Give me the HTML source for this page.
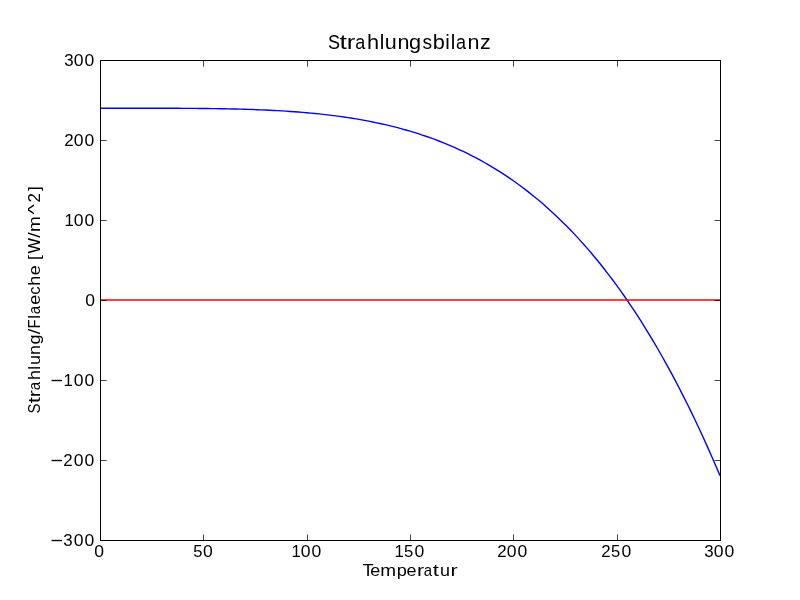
<!DOCTYPE html>
<html><head><meta charset="utf-8"><title>Strahlungsbilanz</title>
<style>
html,body{margin:0;padding:0;background:#fff;}
body{width:800px;height:600px;overflow:hidden;}
svg{display:block;will-change:transform;}
text{font-family:"Liberation Sans",sans-serif;fill:#000;}
.ticks line{stroke:#000;stroke-opacity:0.72;stroke-width:1;}
</style></head>
<body>
<svg width="800" height="600" viewBox="0 0 800 600">
<rect x="0" y="0" width="800" height="600" fill="#fff"/>
<polyline fill="none" stroke="#0000ff" stroke-width="1.39" stroke-linejoin="round" points="100.00,108.20 104.13,108.20 108.27,108.20 112.40,108.20 116.53,108.20 120.67,108.20 124.80,108.20 128.93,108.20 133.07,108.20 137.20,108.20 141.33,108.21 145.47,108.21 149.60,108.22 153.73,108.22 157.87,108.23 162.00,108.24 166.13,108.25 170.27,108.26 174.40,108.28 178.53,108.29 182.67,108.32 186.80,108.34 190.93,108.37 195.07,108.40 199.20,108.44 203.33,108.48 207.47,108.53 211.60,108.59 215.73,108.65 219.87,108.71 224.00,108.79 228.13,108.87 232.27,108.96 236.40,109.06 240.53,109.17 244.67,109.29 248.80,109.42 252.93,109.56 257.07,109.71 261.20,109.88 265.33,110.06 269.47,110.25 273.60,110.46 277.73,110.68 281.87,110.92 286.00,111.18 290.13,111.45 294.27,111.74 298.40,112.05 302.53,112.38 306.67,112.74 310.80,113.11 314.93,113.51 319.07,113.93 323.20,114.37 327.33,114.84 331.47,115.34 335.60,115.86 339.73,116.41 343.87,116.99 348.00,117.61 352.13,118.25 356.27,118.92 360.40,119.63 364.53,120.38 368.67,121.16 372.80,121.97 376.93,122.82 381.07,123.72 385.20,124.65 389.33,125.63 393.47,126.64 397.60,127.70 401.73,128.81 405.87,129.96 410.00,131.16 414.13,132.41 418.27,133.71 422.40,135.06 426.53,136.47 430.67,137.93 434.80,139.44 438.93,141.01 443.07,142.64 447.20,144.33 451.33,146.09 455.47,147.90 459.60,149.78 463.73,151.72 467.87,153.74 472.00,155.82 476.13,157.97 480.27,160.19 484.40,162.49 488.53,164.86 492.67,167.31 496.80,169.84 500.93,172.45 505.07,175.14 509.20,177.92 513.33,180.78 517.47,183.72 521.60,186.76 525.73,189.88 529.87,193.10 534.00,196.42 538.13,199.83 542.27,203.33 546.40,206.94 550.53,210.65 554.67,214.46 558.80,218.38 562.93,222.40 567.07,226.53 571.20,230.78 575.33,235.14 579.47,239.61 583.60,244.20 587.73,248.91 591.87,253.74 596.00,258.69 600.13,263.77 604.27,268.98 608.40,274.32 612.53,279.79 616.67,285.39 620.80,291.13 624.93,297.00 629.07,303.02 633.20,309.18 637.33,315.48 641.47,321.94 645.60,328.54 649.73,335.29 653.87,342.20 658.00,349.26 662.13,356.48 666.27,363.87 670.40,371.41 674.53,379.13 678.67,387.01 682.80,395.06 686.93,403.28 691.07,411.68 695.20,420.26 699.33,429.02 703.47,437.96 707.60,447.09 711.73,456.41 715.87,465.92 720.00,475.62"/>
<line x1="100" y1="300" x2="720" y2="300" stroke="#ff0000" stroke-width="1.39"/>
<g class="ticks">
<line x1="203.5" y1="534.44" x2="203.5" y2="540"/>
<line x1="203.5" y1="61" x2="203.5" y2="66.56"/>
<line x1="307.5" y1="534.44" x2="307.5" y2="540"/>
<line x1="307.5" y1="61" x2="307.5" y2="66.56"/>
<line x1="410.5" y1="534.44" x2="410.5" y2="540"/>
<line x1="410.5" y1="61" x2="410.5" y2="66.56"/>
<line x1="513.5" y1="534.44" x2="513.5" y2="540"/>
<line x1="513.5" y1="61" x2="513.5" y2="66.56"/>
<line x1="617.5" y1="534.44" x2="617.5" y2="540"/>
<line x1="617.5" y1="61" x2="617.5" y2="66.56"/>
<line x1="101" y1="140.5" x2="106.56" y2="140.5"/>
<line x1="714.44" y1="140.5" x2="720" y2="140.5"/>
<line x1="101" y1="220.5" x2="106.56" y2="220.5"/>
<line x1="714.44" y1="220.5" x2="720" y2="220.5"/>
<line x1="101" y1="300.5" x2="106.56" y2="300.5"/>
<line x1="714.44" y1="300.5" x2="720" y2="300.5"/>
<line x1="101" y1="380.5" x2="106.56" y2="380.5"/>
<line x1="714.44" y1="380.5" x2="720" y2="380.5"/>
<line x1="101" y1="460.5" x2="106.56" y2="460.5"/>
<line x1="714.44" y1="460.5" x2="720" y2="460.5"/>
</g>
<rect x="100.5" y="60.5" width="620" height="480" fill="none" stroke="#000" stroke-width="1" shape-rendering="crispEdges"/>
<g class="labels">
<text y="66.00" style="font-size:17px"><tspan x="64.36" textLength="9.39" lengthAdjust="spacingAndGlyphs">3</tspan><tspan x="73.81" textLength="9.77" lengthAdjust="spacingAndGlyphs">0</tspan><tspan x="84.41" textLength="9.77" lengthAdjust="spacingAndGlyphs">0</tspan></text>
<text y="146.00" style="font-size:17px"><tspan x="64.19" textLength="9.42" lengthAdjust="spacingAndGlyphs">2</tspan><tspan x="73.81" textLength="9.77" lengthAdjust="spacingAndGlyphs">0</tspan><tspan x="84.41" textLength="9.77" lengthAdjust="spacingAndGlyphs">0</tspan></text>
<text y="226.00" style="font-size:17px"><tspan x="64.40" textLength="9.33" lengthAdjust="spacingAndGlyphs">1</tspan><tspan x="73.81" textLength="9.77" lengthAdjust="spacingAndGlyphs">0</tspan><tspan x="84.41" textLength="9.77" lengthAdjust="spacingAndGlyphs">0</tspan></text>
<text y="306.00" style="font-size:17px"><tspan x="85.31" textLength="9.77" lengthAdjust="spacingAndGlyphs">0</tspan></text>
<text y="386.00" style="font-size:17px"><tspan x="50.62" y="387.30" style="font-size:19.5px" textLength="12.54" lengthAdjust="spacingAndGlyphs">−</tspan><tspan x="63.50" y="386.00" textLength="9.33" lengthAdjust="spacingAndGlyphs">1</tspan><tspan x="73.81" y="386.00" textLength="9.77" lengthAdjust="spacingAndGlyphs">0</tspan><tspan x="84.41" y="386.00" textLength="9.77" lengthAdjust="spacingAndGlyphs">0</tspan></text>
<text y="466.00" style="font-size:17px"><tspan x="50.62" y="467.30" style="font-size:19.5px" textLength="12.54" lengthAdjust="spacingAndGlyphs">−</tspan><tspan x="63.19" y="466.00" textLength="9.42" lengthAdjust="spacingAndGlyphs">2</tspan><tspan x="73.81" y="466.00" textLength="9.77" lengthAdjust="spacingAndGlyphs">0</tspan><tspan x="84.41" y="466.00" textLength="9.77" lengthAdjust="spacingAndGlyphs">0</tspan></text>
<text y="546.00" style="font-size:17px"><tspan x="50.62" y="547.30" style="font-size:19.5px" textLength="12.54" lengthAdjust="spacingAndGlyphs">−</tspan><tspan x="63.36" y="546.00" textLength="9.39" lengthAdjust="spacingAndGlyphs">3</tspan><tspan x="73.81" y="546.00" textLength="9.77" lengthAdjust="spacingAndGlyphs">0</tspan><tspan x="84.41" y="546.00" textLength="9.77" lengthAdjust="spacingAndGlyphs">0</tspan></text>
<text y="557.00" style="font-size:17px"><tspan x="94.31" textLength="9.77" lengthAdjust="spacingAndGlyphs">0</tspan></text>
<text y="557.00" style="font-size:17px"><tspan x="193.25" textLength="9.22" lengthAdjust="spacingAndGlyphs">5</tspan><tspan x="203.01" textLength="9.77" lengthAdjust="spacingAndGlyphs">0</tspan></text>
<text y="557.00" style="font-size:17px"><tspan x="291.40" textLength="9.33" lengthAdjust="spacingAndGlyphs">1</tspan><tspan x="300.81" textLength="9.77" lengthAdjust="spacingAndGlyphs">0</tspan><tspan x="311.41" textLength="9.77" lengthAdjust="spacingAndGlyphs">0</tspan></text>
<text y="557.00" style="font-size:17px"><tspan x="394.40" textLength="9.33" lengthAdjust="spacingAndGlyphs">1</tspan><tspan x="404.00" textLength="9.22" lengthAdjust="spacingAndGlyphs">5</tspan><tspan x="414.41" textLength="9.77" lengthAdjust="spacingAndGlyphs">0</tspan></text>
<text y="557.00" style="font-size:17px"><tspan x="497.19" textLength="9.42" lengthAdjust="spacingAndGlyphs">2</tspan><tspan x="506.81" textLength="9.77" lengthAdjust="spacingAndGlyphs">0</tspan><tspan x="517.41" textLength="9.77" lengthAdjust="spacingAndGlyphs">0</tspan></text>
<text y="557.00" style="font-size:17px"><tspan x="601.19" textLength="9.42" lengthAdjust="spacingAndGlyphs">2</tspan><tspan x="611.00" textLength="9.22" lengthAdjust="spacingAndGlyphs">5</tspan><tspan x="621.41" textLength="9.77" lengthAdjust="spacingAndGlyphs">0</tspan></text>
<text y="557.00" style="font-size:17px"><tspan x="704.36" textLength="9.39" lengthAdjust="spacingAndGlyphs">3</tspan><tspan x="713.81" textLength="9.77" lengthAdjust="spacingAndGlyphs">0</tspan><tspan x="724.41" textLength="9.77" lengthAdjust="spacingAndGlyphs">0</tspan></text>
<text y="48.90" style="font-size:20.5px"><tspan x="327.94" textLength="12.03" lengthAdjust="spacingAndGlyphs">S</tspan><tspan x="339.54" textLength="7.40" lengthAdjust="spacingAndGlyphs">t</tspan><tspan x="346.85" textLength="8.53" lengthAdjust="spacingAndGlyphs">r</tspan><tspan x="355.23" textLength="10.03" lengthAdjust="spacingAndGlyphs">a</tspan><tspan x="366.96" textLength="12.08" lengthAdjust="spacingAndGlyphs">h</tspan><tspan x="379.67" textLength="4.54" lengthAdjust="spacingAndGlyphs">l</tspan><tspan x="384.84" textLength="11.99" lengthAdjust="spacingAndGlyphs">u</tspan><tspan x="397.49" textLength="11.99" lengthAdjust="spacingAndGlyphs">n</tspan><tspan x="409.12" textLength="12.09" lengthAdjust="spacingAndGlyphs">g</tspan><tspan x="422.39" textLength="9.59" lengthAdjust="spacingAndGlyphs">s</tspan><tspan x="432.85" textLength="12.10" lengthAdjust="spacingAndGlyphs">b</tspan><tspan x="445.23" textLength="4.54" lengthAdjust="spacingAndGlyphs">i</tspan><tspan x="450.72" textLength="4.54" lengthAdjust="spacingAndGlyphs">l</tspan><tspan x="456.10" textLength="10.03" lengthAdjust="spacingAndGlyphs">a</tspan><tspan x="467.61" textLength="11.99" lengthAdjust="spacingAndGlyphs">n</tspan><tspan x="480.07" textLength="10.72" lengthAdjust="spacingAndGlyphs">z</tspan></text>
<text y="575.90" style="font-size:17px"><tspan x="362.50" textLength="11.11" lengthAdjust="spacingAndGlyphs">T</tspan><tspan x="370.31" textLength="10.01" lengthAdjust="spacingAndGlyphs">e</tspan><tspan x="380.38" textLength="15.82" lengthAdjust="spacingAndGlyphs">m</tspan><tspan x="396.70" textLength="10.09" lengthAdjust="spacingAndGlyphs">p</tspan><tspan x="406.56" textLength="10.01" lengthAdjust="spacingAndGlyphs">e</tspan><tspan x="417.09" textLength="7.11" lengthAdjust="spacingAndGlyphs">r</tspan><tspan x="423.66" textLength="8.34" lengthAdjust="spacingAndGlyphs">a</tspan><tspan x="432.84" textLength="6.14" lengthAdjust="spacingAndGlyphs">t</tspan><tspan x="439.94" textLength="10.00" lengthAdjust="spacingAndGlyphs">u</tspan><tspan x="450.41" textLength="7.11" lengthAdjust="spacingAndGlyphs">r</tspan></text>
<text transform="rotate(-90)" y="40.20" style="font-size:17px"><tspan x="-413.49" textLength="9.98" lengthAdjust="spacingAndGlyphs">S</tspan><tspan x="-403.26" textLength="6.14" lengthAdjust="spacingAndGlyphs">t</tspan><tspan x="-397.29" textLength="7.11" lengthAdjust="spacingAndGlyphs">r</tspan><tspan x="-390.19" textLength="8.34" lengthAdjust="spacingAndGlyphs">a</tspan><tspan x="-380.12" textLength="10.07" lengthAdjust="spacingAndGlyphs">h</tspan><tspan x="-369.70" textLength="3.79" lengthAdjust="spacingAndGlyphs">l</tspan><tspan x="-365.13" textLength="10.00" lengthAdjust="spacingAndGlyphs">u</tspan><tspan x="-354.91" textLength="10.00" lengthAdjust="spacingAndGlyphs">n</tspan><tspan x="-344.53" textLength="10.08" lengthAdjust="spacingAndGlyphs">g</tspan><tspan x="-334.21" textLength="5.62" lengthAdjust="spacingAndGlyphs">/</tspan><tspan x="-328.48" textLength="9.14" lengthAdjust="spacingAndGlyphs">F</tspan><tspan x="-318.85" textLength="3.79" lengthAdjust="spacingAndGlyphs">l</tspan><tspan x="-314.19" textLength="8.34" lengthAdjust="spacingAndGlyphs">a</tspan><tspan x="-304.89" textLength="10.01" lengthAdjust="spacingAndGlyphs">e</tspan><tspan x="-294.87" textLength="8.36" lengthAdjust="spacingAndGlyphs">c</tspan><tspan x="-285.77" textLength="10.07" lengthAdjust="spacingAndGlyphs">h</tspan><tspan x="-275.19" textLength="10.01" lengthAdjust="spacingAndGlyphs">e</tspan><tspan> </tspan><tspan x="-260.06" textLength="4.82" lengthAdjust="spacingAndGlyphs">[</tspan><tspan x="-253.46" textLength="15.51" lengthAdjust="spacingAndGlyphs">W</tspan><tspan x="-237.81" textLength="5.62" lengthAdjust="spacingAndGlyphs">/</tspan><tspan x="-232.12" textLength="15.82" lengthAdjust="spacingAndGlyphs">m</tspan><tspan x="-214.64" textLength="10.37" lengthAdjust="spacingAndGlyphs">^</tspan><tspan x="-202.46" textLength="9.42" lengthAdjust="spacingAndGlyphs">2</tspan><tspan x="-190.91" textLength="4.82" lengthAdjust="spacingAndGlyphs">]</tspan></text>
</g>
</svg>
</body></html>
